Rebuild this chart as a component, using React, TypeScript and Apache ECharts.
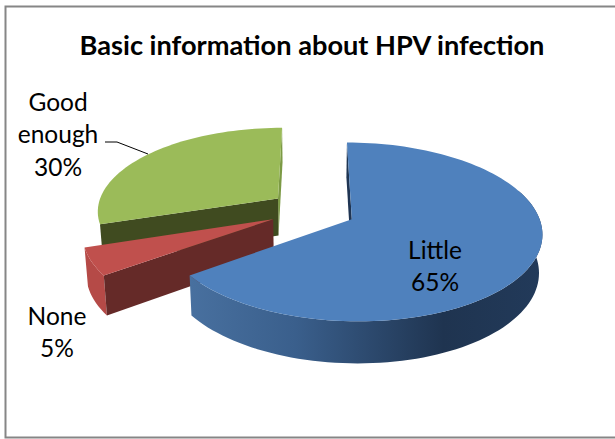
import React, { useEffect, useRef } from "react";
import * as echarts from "echarts";

const titleText = "Basic information about HPV infection";
const categories = ["Little", "None", "Good enough"];
const values = [65, 5, 30];
const fontFamily = "Lato, Carlito, 'Open Sans', sans-serif";

// Perspective model of the exploded 3D pie
const CX = 312.5, CY = 210, RX = 185, RY = 85, PERSP = 0.14, EXPLODE = 0.235, SHRINK = 0.985;
const RIM = [1, 1, 0.98];

type Pt = [number, number];
const rad = (d: number) => (d * Math.PI) / 180;

function project(px: number, py: number): Pt {
  const w = 1 / (1 - PERSP * py);
  return [CX + RX * px * w, CY + RY * py * w];
}
function planePoint(mid: number, theta: number, r: number): [number, number] {
  return [
    EXPLODE * Math.sin(rad(mid)) + r * Math.sin(rad(theta)),
    -EXPLODE * Math.cos(rad(mid)) - r * Math.cos(rad(theta)),
  ];
}
function top(mid: number, theta: number, r: number): Pt {
  const [px, py] = planePoint(mid, theta, r);
  return project(px, py);
}
function bottom(mid: number, theta: number, r: number): Pt {
  const [px, py] = planePoint(mid, theta, r);
  const w = 1 / (1 - PERSP * py);
  const [x, y] = project(px, py);
  return [CX + (x - CX) * SHRINK, y + 37 + (w - 0.98) * 25];
}
function arc(fn: (m: number, t: number, r: number) => Pt, mid: number, a: number, b: number, r: number): Pt[] {
  const n = Math.max(4, Math.ceil(Math.abs(b - a) / 2));
  const out: Pt[] = [];
  for (let i = 0; i <= n; i++) out.push(fn(mid, a + ((b - a) * i) / n, r));
  return out;
}

const total = values.reduce((s, v) => s + v, 0);
const angles = values.reduce<[number, number][]>((acc, v) => {
  const s = acc.length ? acc[acc.length - 1][1] : 0;
  acc.push([s, s + (v / total) * 360]);
  return acc;
}, []);

const grad = (stops: [number, string][]) =>
  new echarts.graphic.LinearGradient(0, 0, 1, 0, stops.map(([offset, color]) => ({ offset, color })));

const paintOrder = [2, 1, 0];

function wall(mid: number, theta: number, r: number, fill: string) {
  return {
    type: "polygon",
    shape: { points: [top(mid, theta, 0), top(mid, theta, r), bottom(mid, theta, r), bottom(mid, theta, 0)] },
    style: { fill },
  };
}

function label(x: number, y: number, text: string) {
  return {
    type: "text",
    x,
    y,
    style: {
      text,
      fontFamily,
      fontSize: 24.5,
      lineHeight: 32.5,
      fill: "#000",
      align: "center",
      verticalAlign: "middle",
    },
  };
}

function renderItem(params: any) {
  const idx = paintOrder[params.dataIndex];
  const [a, b] = angles[idx];
  const mid = (a + b) / 2;
  const r = RIM[idx];
  const pct = `${values[idx]}%`;
  const children: any[] = [];
  const face = { type: "polygon", shape: { points: [top(mid, a, 0), ...arc(top, mid, a, b, r)] } };
  if (idx === 0) {
    children.push(wall(mid, a, r, "#1f3553"));
    const f = a + 70;
    children.push({
      type: "polygon",
      shape: { points: [...arc(top, mid, f, b, r), ...arc(bottom, mid, f, b, r).reverse()] },
      style: {
        fill: grad([
          [0, "#48709f"],
          [0.3, "#3a5f8c"],
          [0.72, "#1f3450"],
          [1, "#223a5a"],
        ]),
      },
    });
    children.push({ ...face, style: { fill: "#4f81bd" } });
    children.push(label(435, 265.5, `${categories[idx]}\n${pct}`));
  } else if (idx === 1) {
    children.push({
      type: "polygon",
      shape: { points: [...arc(top, mid, a, b, r), ...arc(bottom, mid, a, b, r).reverse()] },
      style: { fill: "#b54a47" },
    });
    children.push(wall(mid, a, r, "#652a28"));
    children.push({ ...face, style: { fill: "#c0504d" } });
    children.push(label(57, 331.5, `${categories[idx]}\n${pct}`));
  } else {
    children.push(wall(mid, b, r, "#7c9a45"));
    children.push(wall(mid, a, r, "#404b20"));
    children.push({ ...face, style: { fill: "#9bbb59" } });
    const [w1, w2] = categories[idx].split(" ");
    children.push(label(58, 133.5, `${w1}\n${w2}\n${pct}`));
    children.push({
      type: "polyline",
      shape: { points: [[105, 142], [117, 142], [148, 154]] },
      style: { stroke: "#000", lineWidth: 1, fill: "none" },
    });
  }
  return { type: "group", children };
}

export default function App() {
  const ref = useRef<HTMLDivElement>(null);
  useEffect(() => {
    const chart = echarts.init(ref.current!, undefined, { renderer: "svg" });
    chart.setOption({
      animation: false,
      backgroundColor: "#fff",
      title: {
        text: titleText,
        left: 307,
        top: 26,
        textAlign: "center",
        textStyle: { fontFamily, fontWeight: "bold", fontSize: 27.2, color: "#000" },
      },
      graphic: [
        {
          type: "rect",
          silent: true,
          shape: { x: 5.5, y: 6.5, width: 700, height: 431 },
          style: { fill: "none", stroke: "#868686", lineWidth: 2 },
        },
      ],
      series: [
        {
          type: "custom",
          coordinateSystem: "none",
          silent: true,
          data: paintOrder.map((i) => ({ name: categories[i], value: values[i] })),
          renderItem,
        },
      ],
    });
    return () => chart.dispose();
  }, []);
  return <div ref={ref} style={{ position: "absolute", left: 0, top: 0, width: 615, height: 439 }} />;
}
